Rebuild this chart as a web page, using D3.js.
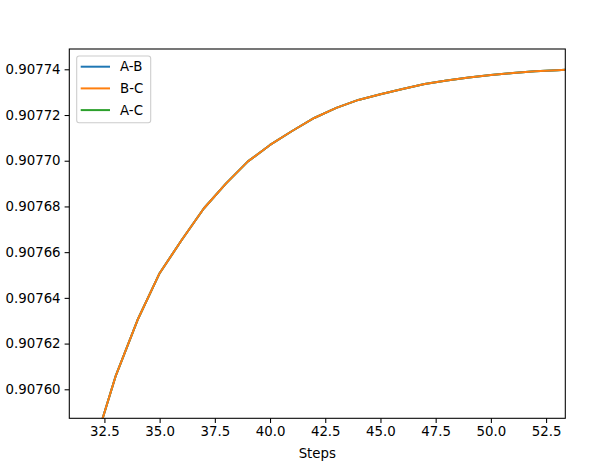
<!DOCTYPE html>
<html>
<head>
<meta charset="utf-8">
<script src="https://cdn.jsdelivr.net/npm/d3@7"></script>
<style>
    body { margin: 0; background: #fff; }
    text { font-family: "DejaVu Sans", sans-serif; }
</style>
</head>
<body>
<svg id="canvas" width="593" height="466"></svg>
<script>
const steps = [32, 33, 34, 35, 36, 37, 38, 39, 40, 41, 42, 43, 44, 45, 46, 47, 48, 49, 50, 51, 52, 53, 54];

const abValues = [0.9075741, 0.9076055, 0.9076303, 0.9076508, 0.9076653, 0.9076791, 0.90769, 0.9076997,
    0.9077069, 0.907713, 0.9077187, 0.9077231, 0.9077266, 0.9077291, 0.9077314, 0.9077336,
    0.9077351, 0.9077364, 0.9077375, 0.9077384, 0.9077391, 0.9077396, 0.90774];
const bcValues = [0.9075741, 0.9076055, 0.9076303, 0.9076508, 0.9076653, 0.9076791, 0.90769, 0.9076997,
    0.9077069, 0.907713, 0.9077187, 0.9077231, 0.9077266, 0.9077291, 0.9077314, 0.9077336,
    0.9077351, 0.9077364, 0.9077375, 0.9077384, 0.9077391, 0.9077396, 0.90774];
const acValues = [0.9075741, 0.9076055, 0.9076303, 0.9076508, 0.9076653, 0.9076791, 0.90769, 0.9076997,
    0.9077069, 0.907713, 0.9077187, 0.9077231, 0.9077266, 0.9077291, 0.9077314, 0.9077336,
    0.9077351, 0.9077364, 0.9077375, 0.9077384, 0.9077391, 0.9077396, 0.90774];

const seriesNames = ["A-B", "B-C", "A-C"];
const seriesColors = ["#1f77b4", "#ff7f0e", "#2ca02c"];

const xTicks = [32.5, 35, 37.5, 40, 42.5, 45, 47.5, 50, 52.5];
const yTicks = [0.9076, 0.90762, 0.90764, 0.90766, 0.90768, 0.9077, 0.90772, 0.90774];

const canvas = d3.select("#canvas");

const plotLeft = 69.3, plotRight = 565.3, plotTop = 49, plotBottom = 418.3;

const x = d3.scaleLinear().domain([30.91, 53.37]).range([plotLeft, plotRight]);
const y = d3.scaleLinear().domain([0.90758731, 0.90774888]).range([plotBottom, plotTop]);

canvas.append("defs")
    .append("clipPath")
    .attr("id", "plotClip")
    .append("rect")
    .attr("x", plotLeft)
    .attr("y", plotTop)
    .attr("width", plotRight - plotLeft)
    .attr("height", plotBottom - plotTop);

const series = [
    { name: seriesNames[0], color: seriesColors[0], values: abValues },
    { name: seriesNames[1], color: seriesColors[1], values: bcValues },
    { name: seriesNames[2], color: seriesColors[2], values: acValues }
];

const line = d3.line()
    .x((d) => x(d[0]))
    .y((d) => y(d[1]));

// green first, then blue, orange ends on top like in the picture
const drawOrder = [series[2], series[0], series[1]];

canvas.append("g")
    .attr("clip-path", "url(#plotClip)")
    .selectAll("path")
    .data(drawOrder)
    .enter()
    .append("path")
    .attr("d", (s) => line(steps.map((st, i) => [st, s.values[i]])))
    .attr("fill", "none")
    .attr("stroke", (s) => s.color)
    .attr("stroke-width", 2)
    .attr("stroke-linejoin", "round");

const xAxis = canvas.append("g")
    .attr("transform", `translate(0, ${plotBottom})`)
    .call(d3.axisBottom(x).tickValues(xTicks).tickFormat(d3.format(".1f")).tickSizeOuter(0).tickSize(4.7).tickPadding(4));

const yAxis = canvas.append("g")
    .attr("transform", `translate(${plotLeft}, 0)`)
    .call(d3.axisLeft(y).tickValues(yTicks).tickFormat(d3.format(".5f")).tickSizeOuter(0).tickSize(4.7).tickPadding(4));

[xAxis, yAxis].forEach((ax) => {
    ax.select(".domain").remove();
    ax.selectAll("line").attr("stroke", "#000").attr("stroke-width", 1.07);
    ax.selectAll("text").attr("font-size", "13.33px").attr("fill", "#000")
        .attr("font-family", "DejaVu Sans, sans-serif");
});

canvas.append("rect")
    .attr("x", plotLeft)
    .attr("y", plotTop)
    .attr("width", plotRight - plotLeft)
    .attr("height", plotBottom - plotTop)
    .attr("fill", "none")
    .attr("stroke", "#000")
    .attr("stroke-width", 1.07);

canvas.append("text")
    .attr("x", (plotLeft + plotRight) / 2)
    .attr("y", 458)
    .attr("text-anchor", "middle")
    .attr("font-size", "13.33px")
    .text("Steps");

// legend
const legend = canvas.append("g");
legend.append("rect")
    .attr("x", 76.7)
    .attr("y", 56)
    .attr("width", 74)
    .attr("height", 66.7)
    .attr("rx", 2.5)
    .attr("fill", "#fff")
    .attr("fill-opacity", 0.8)
    .attr("stroke", "#ccc")
    .attr("stroke-width", 1.07);

const rows = legend.selectAll("g.row")
    .data(series)
    .enter()
    .append("g")
    .attr("class", "row")
    .attr("transform", (s, i) => `translate(0, ${66.7 + i * 21.7})`);

rows.append("line")
    .attr("x1", 80.7)
    .attr("x2", 110)
    .attr("stroke", (s) => s.color)
    .attr("stroke-width", 2);

rows.append("text")
    .attr("x", 120)
    .attr("dy", "0.35em")
    .attr("font-size", "13.33px")
    .text((s) => s.name);
</script>
</body>
</html>
